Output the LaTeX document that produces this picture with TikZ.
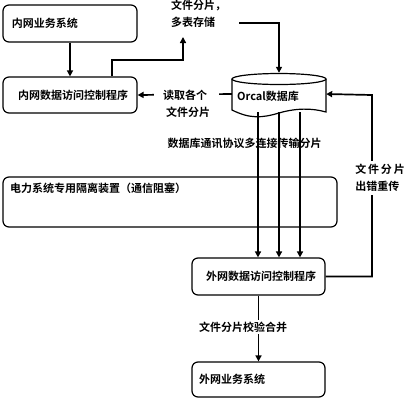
\documentclass[tikz,border=0pt]{standalone}
\usepackage{fontspec}
\setmainfont{Noto Sans CJK SC}[BoldFont={* Bold}]
\usetikzlibrary{arrows.meta,calc}
\begin{document}
\begin{tikzpicture}[x=1pt,y=-1pt,
  every node/.style={font=\fontsize{11}{17}\selectfont\bfseries},
  box/.style={draw,line width=1.2pt,rounded corners=6pt,inner sep=0pt},
  conn/.style={line width=1.7pt,-{Triangle[length=6pt,width=6pt]}},
  lbl/.style={fill=white,inner sep=2pt,align=left}]
\useasboundingbox (0,0) rectangle (407,400);
% boxes
\node[box,minimum width=134pt,minimum height=37pt,text width=116pt,align=left] (n1) at (70,23.5) {内网业务系统};
\node[box,minimum width=134pt,minimum height=36pt,align=center] (n2) at (70,95) {\hspace*{6pt}内网数据访问控制程序};
\node[box,minimum width=334pt,minimum height=50pt] (iso) at (170,202) {};
\node[anchor=west,inner sep=0pt] (isot) at (10,188) {电力系统专用隔离装置（通信阻塞）};
\node[box,minimum width=133pt,minimum height=37pt,align=center] (n3) at (258.5,276.5) {\raisebox{-3pt}{\hspace*{5pt}外网数据访问控制程序}};
\node[box,minimum width=133pt,minimum height=35pt,text width=119pt,align=left] (n4) at (258.5,379.5) {外网业务系统};
% database cylinder
\node[minimum width=94pt,minimum height=42pt,inner sep=0pt] (db) at (279,94) {};
\draw[line width=1.2pt,fill=white] (232,79) -- (232,110)
  .. controls (250,119) and (262,118) .. (279,113)
  .. controls (296,108) and (312,108) .. (326,112) -- (326,79);
\draw[line width=1.2pt,fill=white] (279,79) ellipse [x radius=47, y radius=5.5];
\node[inner sep=0pt] (dbt) at (268,96) {Orcal数据库};
% top text
\node[anchor=north west,inner sep=0pt,align=left] (t1) at (171,0) {文件分片，\\多表存储};
\coordinate (c1) at (239,23);
% connectors
\draw[conn] (n1.south) -- (n2.north);
\draw[conn] ($(n2.north)+(42,0)$) |- (183,60) -- (183,37);
\draw[conn] (c1) -| (db.north);
\draw[conn] (db.west) -- (n2.east) node[lbl,pos=0.48,anchor=center,yshift=-9pt,inner xsep=9pt] (t2) {读取各个\\\hspace*{3pt}文件分片};
\foreach \dx in {-21,0,21}
  \draw[conn] ($(db.south)+(\dx,-3)$) coordinate (s) -- (s |- n3.north);
\node[inner sep=0pt] (t3) at (244.5,143) {数据库通讯协议多连接传输分片};
\draw[conn] (n3.east) -| (372,95) -- (db.east);
\node[lbl,inner sep=3pt] (t4) at (380,178) {文\,件\,分\,片\\出错重传};
\draw[conn] (n3.south) -- (n4.north);
\node[lbl] (t5) at (243,327) {文件分片校验合并};
\end{tikzpicture}
\end{document}
